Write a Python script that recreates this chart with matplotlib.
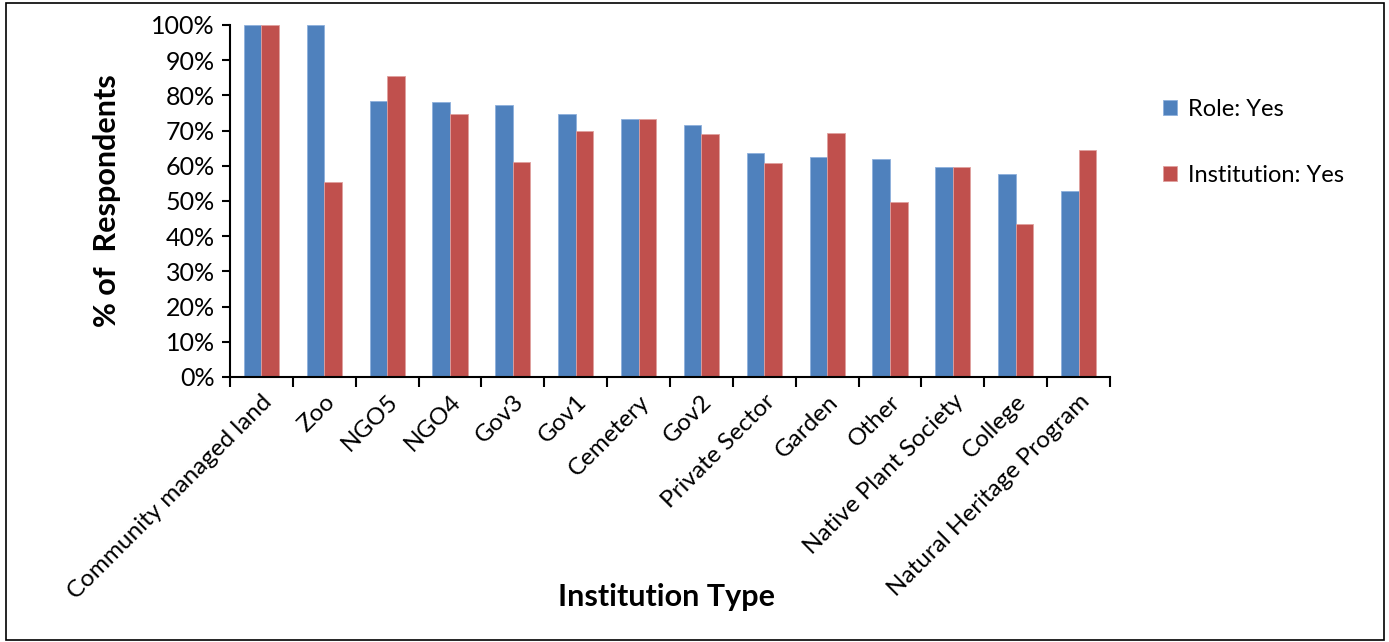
import matplotlib
matplotlib.use("Agg")
import matplotlib.pyplot as plt
import numpy as np
from matplotlib.patches import Rectangle

categories = ["Community managed land", "Zoo", "NGO5", "NGO4", "Gov3", "Gov1",
              "Cemetery", "Gov2", "Private Sector", "Garden", "Other",
              "Native Plant Society", "College", "Natural Heritage Program"]
role_yes = [100, 100, 78.5, 78.0, 77.3, 74.8, 73.2, 71.7, 63.7, 62.4, 61.8, 59.8, 57.6, 52.9]
inst_yes = [100, 55.4, 85.6, 74.8, 61.1, 69.9, 73.2, 69.1, 60.9, 69.4, 49.8, 59.8, 43.6, 64.6]
series_names = ["Role: Yes", "Institution: Yes"]
yticks = list(range(0, 101, 10))

plt.rcParams['font.family'] = ['Lato', 'DejaVu Sans']

W, H = 1389, 642
fig = plt.figure(figsize=(W/100, H/100), dpi=100)
ax = fig.add_axes([230/W, 1-377/H, 880/W, 352/H])

x = np.arange(len(categories))
bw = 0.28
ax.bar(x - bw/2, role_yes, bw, color="#4F81BD", edgecolor="#8DB0DC", linewidth=0.6, label=series_names[0])
ax.bar(x + bw/2, inst_yes, bw, color="#C0504D", edgecolor="#E0A09E", linewidth=0.6, label=series_names[1])

ax.set_xlim(-0.5, len(categories) - 0.5)
ax.set_ylim(0, 100)
ax.set_yticks(yticks)
ax.set_yticklabels([f"{v}%" for v in yticks], fontsize=18)
ax.set_xticks(x)
ax.set_xticklabels(categories, rotation=45, ha="right", rotation_mode="anchor", fontsize=17.5)
ax.tick_params(axis="x", which="major", length=0, pad=10)
ax.set_xticks(np.arange(-0.5, len(categories), 1), minor=True)
ax.tick_params(axis="x", which="minor", length=7, width=1.5, direction="out")
ax.tick_params(axis="y", length=6, width=1.5, direction="out", pad=5)

for s in ["top", "right"]:
    ax.spines[s].set_visible(False)
for s in ["left", "bottom"]:
    ax.spines[s].set_linewidth(1.5)

ax.set_ylabel("% of  Respondents", fontsize=22, fontweight="bold", labelpad=22)
fig.text(667/W, 1-597/H, "Institution Type", fontsize=22, fontweight="bold", ha="center", va="center")

leg = fig.legend(loc="upper left", bbox_to_anchor=(1142/W, 1-78/H), frameon=False,
                 fontsize=17, handlelength=0.6, handleheight=0.6, labelspacing=1.9,
                 handletextpad=0.45)

fig.patches.append(Rectangle((6/W, 2/H), 1378/W, 637/H, transform=fig.transFigure,
                             fill=False, edgecolor="black", linewidth=1.2))

fig.savefig("out.png", dpi=100)
